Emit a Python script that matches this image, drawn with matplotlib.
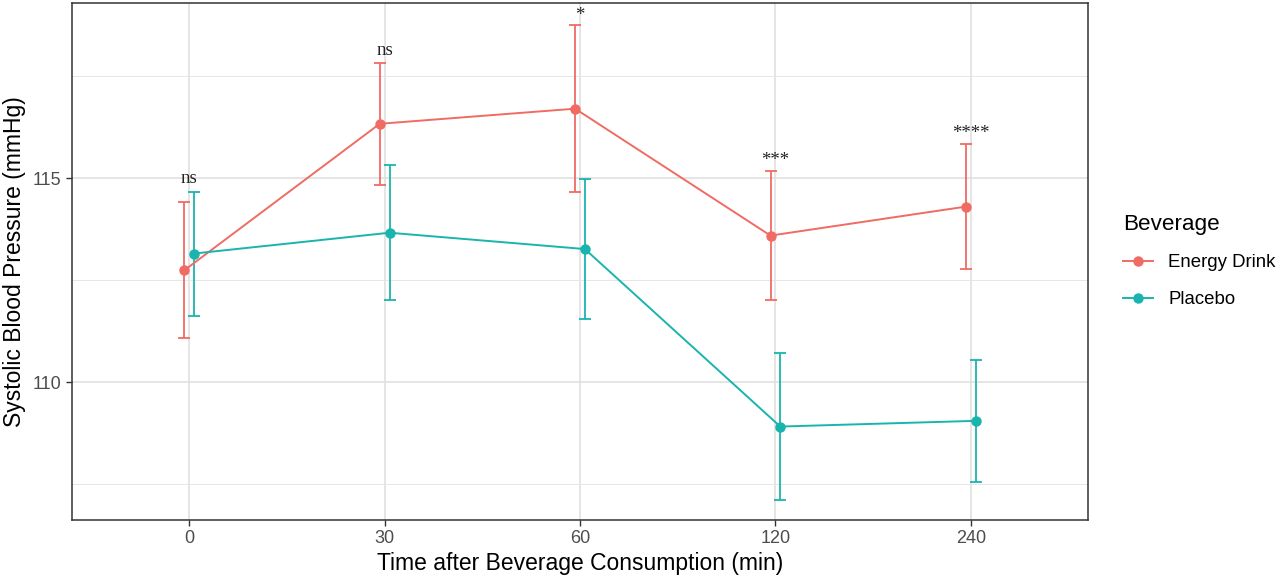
import matplotlib.pyplot as plt
from matplotlib.lines import Line2D
from matplotlib.ticker import FixedLocator

# Data (mean +/- error)
times = ['0', '30', '60', '120', '240']
energy_mean = [112.74, 116.33, 116.70, 113.59, 114.30]
energy_err = [1.67, 1.49, 2.04, 1.59, 1.54]
placebo_mean = [113.15, 113.66, 113.26, 108.91, 109.05]
placebo_err = [1.52, 1.65, 1.72, 1.80, 1.50]
sig_labels = ['ns', 'ns', '*', '***', '****']

red = '#F06B63'
teal = '#1AB4AE'

plt.rcParams['font.family'] = ['Liberation Sans', 'DejaVu Sans']

fig = plt.figure(figsize=(12.8, 5.81), dpi=100)
ax = fig.add_axes([72 / 1280, 1 - 520 / 581, (1088 - 72) / 1280, (520 - 3) / 581])

xpos = list(range(1, len(times) + 1))
dodge = 0.025
x_e = [x - dodge for x in xpos]
x_p = [x + dodge for x in xpos]

for xs, m, e, c in [(x_e, energy_mean, energy_err, red),
                    (x_p, placebo_mean, placebo_err, teal)]:
    ax.errorbar(xs, m, yerr=e, color=c, lw=1.3, capsize=4, capthick=1.3,
                fmt='none', zorder=3)
    ax.plot(xs, m, color=c, lw=1.4, marker='o', markersize=6.5, zorder=4)

# significance labels above the highest error bar
for i, lab in enumerate(sig_labels):
    top = max(energy_mean[i] + energy_err[i], placebo_mean[i] + placebo_err[i])
    off = 0.2 if lab == 'ns' else 0.14
    ax.text(xpos[i], top + off, lab, ha='center', va='baseline',
            family=['Liberation Serif', 'DejaVu Serif'], fontsize=13.5,
            color='#222222')

ax.set_xlim(0.4, 5.6)
ax.set_ylim(106.62, 119.29)
ax.set_xticks(xpos)
ax.set_xticklabels(times)
ax.set_yticks([110, 115])
ax.yaxis.set_minor_locator(FixedLocator([107.5, 112.5, 117.5]))

ax.grid(True, which='major', color='#DEDEDE', lw=1.1, zorder=0)
ax.grid(True, which='minor', axis='y', color='#E6E6E6', lw=0.7, zorder=0)
ax.set_axisbelow(True)
ax.tick_params(which='minor', length=0)
ax.tick_params(which='major', length=4.5, width=1, color='#333333',
               labelsize=13, labelcolor='#4D4D4D', pad=3)
for s in ax.spines.values():
    s.set_color('#333333')
    s.set_linewidth(1.1)

ax.set_xlabel('Time after Beverage Consumption (min)', fontsize=16.5, labelpad=3)
ax.set_ylabel('Systolic Blood Pressure (mmHg)', fontsize=16.5, labelpad=5)

handles = [Line2D([], [], color=red, lw=1.4, marker='o', markersize=6.5),
           Line2D([], [], color=teal, lw=1.4, marker='o', markersize=6.5)]
leg = fig.legend(handles, ['Energy Drink', 'Placebo'], title='Beverage',
                 loc='center left', bbox_to_anchor=(1116 / 1280, 1 - 261 / 581),
                 frameon=False, fontsize=13.4, title_fontsize=16.2,
                 handlelength=1.6, handletextpad=0.8, labelspacing=1.05,
                 alignment='left', borderaxespad=0)

fig.savefig('out.png', dpi=100)
